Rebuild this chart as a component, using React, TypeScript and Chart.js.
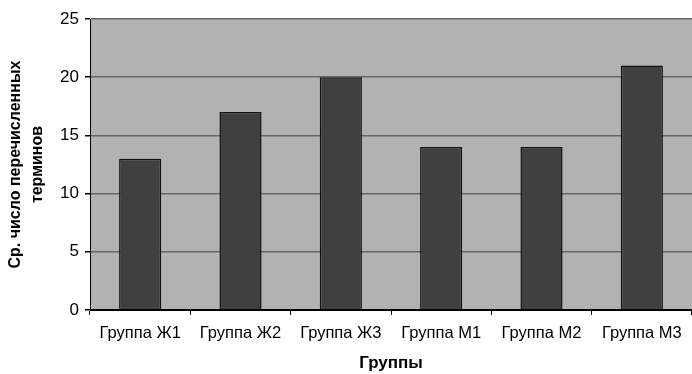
import React, { useEffect, useRef } from "react";
import { Chart, registerables } from "chart.js";

Chart.register(...registerables);

const categories = ["Группа Ж1", "Группа Ж2", "Группа Ж3", "Группа М1", "Группа М2", "Группа М3"];
const values = [13, 17, 20, 14, 14, 21];
const yTitleLines = ["Ср. число перечисленных", "терминов"];
const xTitle = "Группы";

const plotBg = {
  id: "plotBg",
  beforeDraw(chart: any) {
    const { ctx, chartArea } = chart;
    ctx.save();
    ctx.fillStyle = "#b2b2b2";
    ctx.fillRect(chartArea.left, chartArea.top, chartArea.right - chartArea.left, chartArea.bottom - chartArea.top);
    ctx.restore();
  },
};

export default function App() {
  const ref = useRef<HTMLCanvasElement>(null);
  useEffect(() => {
    document.body.style.margin = "0";
    const chart = new Chart(ref.current!, {
      type: "bar",
      data: {
        labels: categories,
        datasets: [
          {
            data: values,
            backgroundColor: "#404040",
            borderColor: "#111111",
            borderWidth: 1.5,
            categoryPercentage: 1,
            barPercentage: 0.42,
          },
        ],
      },
      options: {
        responsive: false,
        animation: false,
        layout: { padding: { top: 19, right: 0, left: 0, bottom: 0 } },
        plugins: { legend: { display: false }, tooltip: { enabled: false } },
        scales: {
          x: {
            offset: true,
            grid: {
              display: true,
              offset: true,
              drawOnChartArea: false,
              drawTicks: true,
              tickLength: 5,
              color: "#000000",
            },
            border: { display: true, color: "#000000", width: 1 },
            ticks: {
              color: "#000000",
              font: { family: "Liberation Sans, Arial", size: 16.5 },
              padding: 9,
              maxRotation: 0,
              autoSkip: false,
            },
            title: {
              display: true,
              text: xTitle,
              color: "#000000",
              font: { family: "Liberation Sans, Arial", size: 17, weight: "bold" },
              padding: { top: 6, bottom: 0 },
            },
            afterFit(scale: any) {
              scale.height = 64;
            },
          },
          y: {
            min: 0,
            max: 25,
            ticks: {
              stepSize: 5,
              color: "#000000",
              font: { family: "Liberation Sans, Arial", size: 17 },
              padding: 6,
            },
            grid: {
              color: (c: any) => (c.index === 0 ? "#000000" : "#666666"),
              lineWidth: 1.5,
              tickLength: 5,
              tickColor: "#000000",
            },
            border: { display: true, color: "#000000", width: 1 },
            title: {
              display: true,
              text: yTitleLines,
              color: "#000000",
              font: { family: "Liberation Sans, Arial", size: 16, weight: "bold", lineHeight: 1.375 },
              padding: { top: 5, bottom: 0 },
            },
            afterFit(scale: any) {
              scale.width = 90;
            },
          },
        },
      },
      plugins: [plotBg],
    });
    return () => chart.destroy();
  }, []);
  return <canvas ref={ref} width={692} height={374} style={{ display: "block" }} />;
}
